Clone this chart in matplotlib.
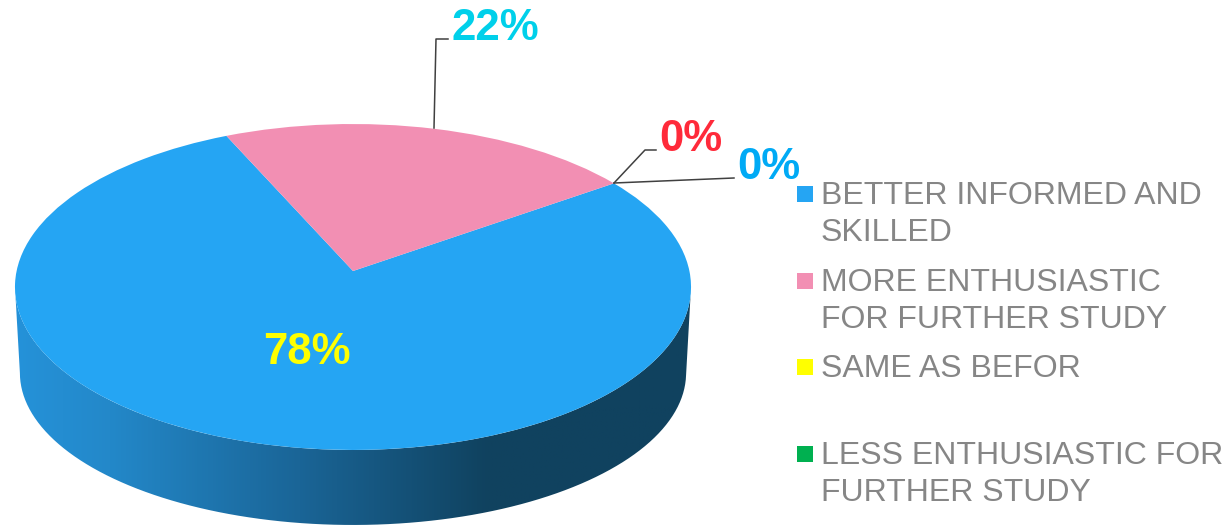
import numpy as np
from matplotlib import pyplot as plt
from matplotlib.colors import LinearSegmentedColormap
from matplotlib.patches import PathPatch, Rectangle
from matplotlib.path import Path
from matplotlib.transforms import Transform

# Datos
categories = ["BETTER INFORMED AND\nSKILLED", "MORE ENTHUSIASTIC\nFOR FURTHER STUDY",
              "SAME AS BEFOR", "LESS ENTHUSIASTIC FOR\nFURTHER STUDY"]
values = [78, 22, 0, 0]
colors = ["#25a5f3", "#f28fb3", "#ffff00", "#00b050"]
label_texts = ["78%", "22%", "0%", "0%"]
label_colors = ["#ffff00", "#00d0ea", "#ff2a3a", "#00aaf5"]

plt.rcParams['font.family'] = ['Liberation Sans', 'DejaVu Sans']

W, H = 1228, 525
CX = 353      # centro horizontal de la tarta
K = 0.098     # perspectiva


class Perspective(Transform):
    # Pasa del disco unidad a pixeles de la imagen, con perspectiva
    input_dims = 2
    output_dims = 2

    def __init__(self, a, b, y0):
        super().__init__()
        self.a, self.b, self.y0 = a, b, y0

    def transform_non_affine(self, values):
        u, v = values[:, 0], values[:, 1]
        d = 1 + K * v
        return np.column_stack([CX + self.a * u / d, self.y0 - self.b * v / d])


top = Perspective(336.4, 161.4, 271)
bottom = Perspective(331.5, 150.6, 358)

fig = plt.figure(figsize=(W / 100, H / 100), dpi=100)
ax = fig.add_axes([0, 0, 1, 1])

wedges, _ = ax.pie(values, colors=colors, startangle=114.2, radius=1,
                   wedgeprops={'linewidth': 0})
ax.set_aspect('auto')
ax.set_xlim(0, W)
ax.set_ylim(H, 0)
ax.axis('off')

for wedge in wedges:
    wedge.set_transform(top + ax.transData)
    wedge.set_zorder(3)

# Lateral de la tarta con degradado horizontal
t = np.linspace(np.pi + np.arcsin(K), 2 * np.pi - np.arcsin(K), 200)
disc = np.column_stack([np.cos(t), np.sin(t)])
wall_pts = np.vstack([top.transform(disc), bottom.transform(disc)[::-1]])
wall = PathPatch(Path(wall_pts), transform=ax.transData, facecolor='none', edgecolor='none')
ax.add_patch(wall)
cmap = LinearSegmentedColormap.from_list('wall', [(0, "#2592d9"), (0.14, "#2388c9"),
                                                  (0.42, "#1a6597"), (0.70, "#10425f"),
                                                  (1, "#10425f")])
grad = ax.imshow(np.linspace(0, 1, 512)[None, :], cmap=cmap, aspect='auto',
                 extent=[15, 691, H + 10, 280], zorder=2)
grad.set_clip_path(wall)
ax.set_xlim(0, W)
ax.set_ylim(H, 0)

# Etiquetas y lineas guia
ax.plot([434, 436, 448], [128, 39, 39], color="#404040", lw=1.1, zorder=4)
ax.plot([614, 645, 656], [183, 150, 150], color="#404040", lw=1.1, zorder=4)
ax.plot([614, 734], [183, 178], color="#404040", lw=1.1, zorder=4)

label_x = [307, 495, 691, 769]
label_y = [364, 40, 151, 179]
for x, y, txt, col in zip(label_x, label_y, label_texts, label_colors):
    ax.text(x, y, txt, color=col, fontsize=31.5, fontweight='bold', ha='center', va='baseline', zorder=5)

# Leyenda
legend_y = [194, 281, 367, 454]
for cat, col, y in zip(categories, colors, legend_y):
    ax.add_patch(Rectangle((797, y - 8), 16, 16, facecolor=col, edgecolor='none', zorder=4))
    for i, line in enumerate(cat.split("\n")):
        ax.text(821, y + 10 + i * 37.3, line, color="#868686", fontsize=23, ha='left', va='baseline')

fig.savefig("out.png", dpi=100)
